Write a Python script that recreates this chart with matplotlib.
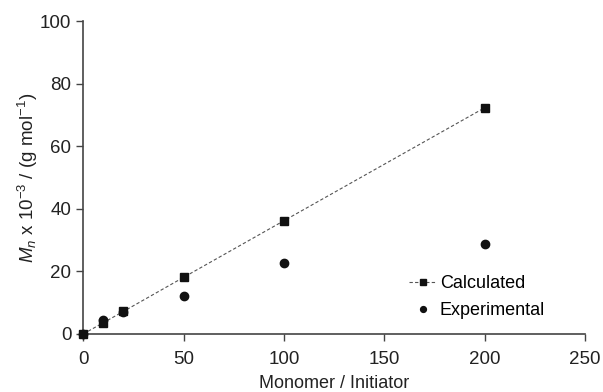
import matplotlib
matplotlib.use("Agg")
import matplotlib.pyplot as plt

# data
ratio = [0, 10, 20, 50, 100, 200]
mn_calc = [0, 3.6, 7.2, 18.1, 36.2, 72.3]
mn_exp = [0, 4.5, 7.0, 12.2, 22.8, 28.8]

plt.rcParams['font.family'] = ['Liberation Sans', 'DejaVu Sans']
plt.rcParams['mathtext.fontset'] = 'custom'
plt.rcParams['mathtext.rm'] = 'Liberation Sans'
plt.rcParams['mathtext.it'] = 'Liberation Sans:italic'

fig = plt.figure(figsize=(6.03, 3.92), dpi=100)
ax = fig.add_axes([0.138, 0.148, 0.832, 0.798])

ax.plot(ratio, mn_calc, linestyle=(0, (3, 2)), linewidth=0.8, color='#555555',
        marker='s', markersize=6, markerfacecolor='#111111', markeredgecolor='#111111',
        label='Calculated', clip_on=False, zorder=3)
ax.plot(ratio, mn_exp, linestyle='none', marker='o', markersize=6,
        color='#111111', label='Experimental', clip_on=False, zorder=3)

ax.set_xlim(0, 250)
ax.set_ylim(0, 100)
ax.set_xticks([0, 50, 100, 150, 200, 250])
ax.set_yticks([0, 20, 40, 60, 80, 100])

for side in ['top', 'right']:
    ax.spines[side].set_visible(False)
for side in ['left', 'bottom']:
    ax.spines[side].set_color('#444444')
    ax.spines[side].set_linewidth(1.2)
ax.tick_params(direction='out', length=5, width=1, colors='#444444',
               labelcolor='#222222', labelsize=13.5)
ax.tick_params(axis='x', pad=7)

ax.set_xlabel('Monomer / Initiator', fontsize=13, color='#222222', labelpad=5)
ax.set_ylabel(r'$\mathit{M_n}$ x 10$^{-3}$ / (g mol$^{-1}$)', fontsize=13.5,
              color='#222222', labelpad=0)

ax.legend(loc='lower right', bbox_to_anchor=(0.953, -0.005), frameon=False,
          fontsize=13, handlelength=1.5, handletextpad=0.2, labelspacing=0.55,
          markerscale=0.7)

fig.savefig('out.png', dpi=100)
